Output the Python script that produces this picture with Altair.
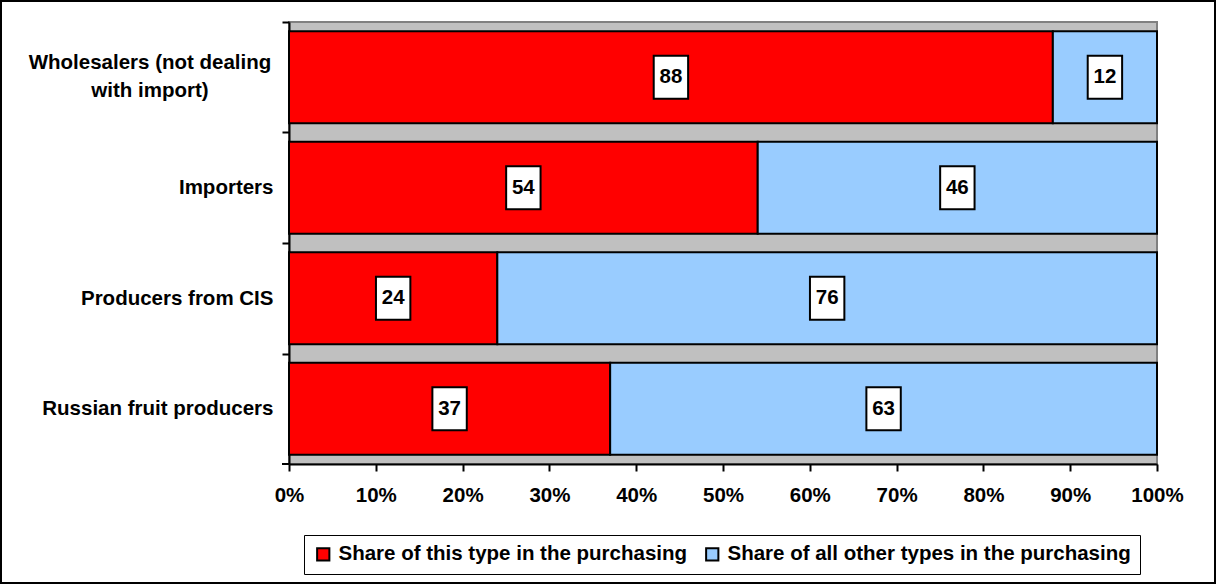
import altair as alt
import pandas as pd

categories = ["Wholesalers (not dealing with import)", "Importers",
              "Producers from CIS", "Russian fruit producers"]
this_type = [88, 54, 24, 37]
other_types = [12, 46, 76, 63]
series = ["Share of this type in the purchasing",
          "Share of all other types in the purchasing"]
colors = ["#FF0000", "#99CCFF"]
x_ticks = [0, 10, 20, 30, 40, 50, 60, 70, 80, 90, 100]
wrapped_label = "Wholesalers (not dealing\nwith import)"

rows = []
for c, a, b in zip(categories, this_type, other_types):
    rows.append({"cat": c, "series": series[0], "ord": 0, "val": a,
                 "start": 0, "end": a, "mid": a / 2})
    rows.append({"cat": c, "series": series[1], "ord": 1, "val": b,
                 "start": a, "end": a + b, "mid": a + b / 2})
df = pd.DataFrame(rows)
wrap_df = pd.DataFrame({"cat": [categories[0]], "txt": [wrapped_label]})

FONT = "Liberation Sans"
FS = 20.5
W, H = 868, 442
STEP = H / len(categories)

yenc = alt.Y("cat:N", sort=categories, title=None,
             scale=alt.Scale(paddingInner=0.167, paddingOuter=0.0835),
             axis=alt.Axis(
                 domainColor="black", domainWidth=2,
                 tickColor="black", tickWidth=2, tickSize=7,
                 tickOffset=-STEP / 2, labelOffset=STEP / 2,
                 labelFont=FONT, labelFontWeight="bold", labelFontSize=FS,
                 labelColor="black", labelLimit=400, labelPadding=9,
                 labelExpr="indexof(datum.label, 'Wholesalers') >= 0 ? '' : datum.label",
             ))

xscale = alt.Scale(domain=[0, 100], nice=False)

bars = alt.Chart(df).mark_bar(stroke="black", strokeWidth=2, opacity=1).encode(
    y=yenc,
    x=alt.X("start:Q", scale=xscale, title=None,
            axis=alt.Axis(values=x_ticks, labelExpr="datum.value + '%'",
                          labelFlush=False,
                          domainColor="black", domainWidth=2,
                          tickColor="black", tickWidth=2, tickSize=7,
                          labelFont=FONT, labelFontWeight="bold", labelFontSize=FS,
                          labelColor="black", labelPadding=14, grid=False)),
    x2="end:Q",
    color=alt.Color("series:N", sort=series,
                    scale=alt.Scale(domain=series, range=colors),
                    legend=alt.Legend(
                        title=None, orient="none", legendX=15, legendY=513,
                        direction="horizontal", strokeColor="black",
                        fillColor="white", padding=9,
                        labelFont=FONT, labelFontWeight="bold", labelFontSize=FS,
                        labelColor="black", labelLimit=600, labelOffset=5,
                        symbolType="square", symbolSize=150,
                        symbolStrokeColor="black", symbolStrokeWidth=2,
                        symbolOpacity=1, columnPadding=14)),
    order=alt.Order("ord:Q"),
)

boxes = alt.Chart(df).mark_point(
    shape="M-0.8,-1L0.8,-1L0.8,1L-0.8,1Z", size=1849, filled=True,
    fill="white", stroke="black", strokeWidth=2, opacity=1,
).encode(y=alt.Y("cat:N", sort=categories), x=alt.X("mid:Q", scale=xscale))

labels = alt.Chart(df).mark_text(
    font=FONT, fontWeight="bold", fontSize=FS, color="black",
    align="center", baseline="middle",
).encode(y=alt.Y("cat:N", sort=categories), x=alt.X("mid:Q", scale=xscale),
         text=alt.Text("val:Q"))

wrap_text = alt.Chart(wrap_df).mark_text(
    font=FONT, fontWeight="bold", fontSize=FS, color="black",
    align="center", baseline="middle", lineBreak="\n", lineHeight=28, dy=-14,
).encode(y=alt.Y("cat:N", sort=categories), x=alt.value(-139),
         text=alt.Text("txt:N"))

# bottom-left axis tick (closing the category boundaries)
corner_tick = alt.Chart(alt.Data(values=[{"k": 1}])).mark_rule(
    color="black", strokeWidth=2,
).encode(x=alt.value(-7), x2=alt.value(0), y=alt.value(H))

border = alt.Chart(alt.Data(values=[{"k": 1}])).mark_rect(
    fillOpacity=0, stroke="black", strokeWidth=2,
).encode(x=alt.value(-288), x2=alt.value(926), y=alt.value(-21), y2=alt.value(561))

chart = alt.layer(bars, boxes, labels, wrap_text, corner_tick, border).properties(
    width=W, height=H,
    padding={"left": 289, "top": 22, "right": 60, "bottom": 121},
    autosize=alt.AutoSizeParams(type="none"),
    background="white",
).configure_view(fill="#C0C0C0", stroke="#808080", strokeWidth=2)

chart.save("out.html", embed_options={"renderer": "svg", "actions": False})
